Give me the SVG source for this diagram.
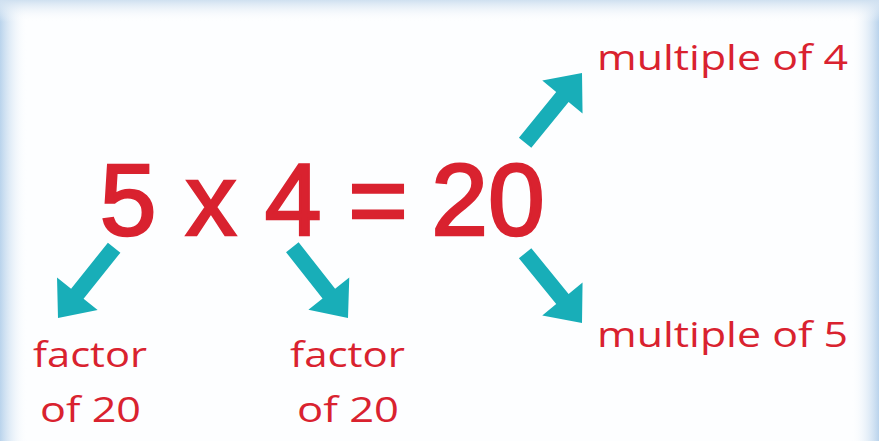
<svg xmlns="http://www.w3.org/2000/svg" width="879" height="441" viewBox="0 0 879 441">
  <defs>
    <linearGradient id="gl" x1="0" y1="0" x2="1" y2="0">
      <stop offset="0" stop-color="#b9d3ec"/>
      <stop offset="1" stop-color="#ffffff" stop-opacity="0"/>
    </linearGradient>
    <linearGradient id="gr" x1="1" y1="0" x2="0" y2="0">
      <stop offset="0" stop-color="#b9d3ec"/>
      <stop offset="1" stop-color="#ffffff" stop-opacity="0"/>
    </linearGradient>
    <linearGradient id="gt" x1="0" y1="0" x2="0" y2="1">
      <stop offset="0" stop-color="#cfe0f0"/>
      <stop offset="1" stop-color="#ffffff" stop-opacity="0"/>
    </linearGradient>
    <path id="arrow" d="M-90,-8 L-31,-8 L-31,-26 L0,0 L-31,26 L-31,8 L-90,8 Z"/>
  </defs>
  <style>
    .eq { font-family: "Liberation Sans", Arial, sans-serif; font-size: 102px; fill: #d9222f; stroke: #d9222f; stroke-width: 2.5px; text-anchor: middle; }
    .lbl { font-family: "Open Sans", "Noto Sans", sans-serif; font-size: 34px; fill: #d9222f; }
    .arr { fill: #18aeb8; }
  </style>
  <rect x="0" y="0" width="879" height="441" fill="#fdfeff"/>
  <rect x="0" y="0" width="28" height="441" fill="url(#gl)"/>
  <rect x="851" y="0" width="28" height="441" fill="url(#gr)"/>
  <rect x="0" y="0" width="879" height="22" fill="url(#gt)"/>

  <g id="equation">
    <text class="eq" x="128" y="235">5</text>
    <text class="eq" x="211" y="235" font-size="90">x</text>
    <text class="eq" x="293" y="235">4</text>
    <text class="eq" x="378" y="235">=</text>
    <text class="eq" x="488" y="235">20</text>
  </g>

  <g id="connectors" class="arr">
    <use href="#arrow" transform="translate(582,73) rotate(-50.8)"/>
    <use href="#arrow" transform="translate(582,323) rotate(50.8)"/>
    <use href="#arrow" transform="translate(58,318) rotate(128.6)"/>
    <use href="#arrow" transform="translate(348,318) rotate(51.8)"/>
  </g>

  <g id="multiple4">
    <text class="lbl" x="597" y="70" textLength="251" lengthAdjust="spacingAndGlyphs">multiple of 4</text>
  </g>
  <g id="multiple5">
    <text class="lbl" x="597" y="347" textLength="251" lengthAdjust="spacingAndGlyphs">multiple of 5</text>
  </g>
  <g id="factor1">
    <text class="lbl" x="33" y="367" textLength="114" lengthAdjust="spacingAndGlyphs">factor</text>
    <text class="lbl" x="40" y="422" textLength="101" lengthAdjust="spacingAndGlyphs">of 20</text>
  </g>
  <g id="factor2">
    <text class="lbl" x="290" y="367" textLength="115" lengthAdjust="spacingAndGlyphs">factor</text>
    <text class="lbl" x="297" y="422" textLength="102" lengthAdjust="spacingAndGlyphs">of 20</text>
  </g>
</svg>
